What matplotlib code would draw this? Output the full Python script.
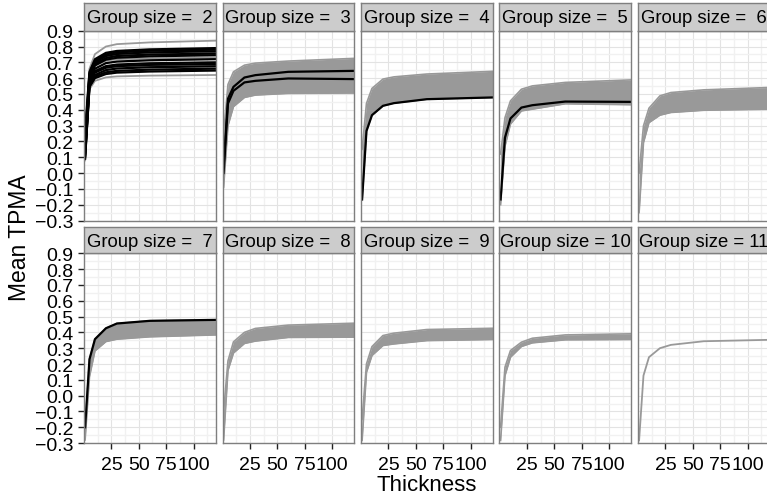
import matplotlib
matplotlib.use('Agg')
import matplotlib.pyplot as plt

plt.rcParams['font.family'] = ['Liberation Sans', 'DejaVu Sans']

# ---------------- data ----------------
thickness = [1, 5, 10, 20, 30, 60, 120]
group_sizes = [2, 3, 4, 5, 6, 7, 8, 9, 10, 11]

y_ticks = [-0.3, -0.2, -0.1, 0.0, 0.1, 0.2, 0.3, 0.4, 0.5, 0.6, 0.7, 0.8, 0.9]
y_tick_labels = ['\u22120.3', '\u22120.2', '\u22120.1', '0.0', '0.1', '0.2', '0.3',
                 '0.4', '0.5', '0.6', '0.7', '0.8', '0.9']
y_minor = [-0.25, -0.15, -0.05, 0.05, 0.15, 0.25, 0.35, 0.45, 0.55, 0.65, 0.75, 0.85]
x_ticks = [25, 50, 75, 100]
x_tick_labels = ['25', '50', '75', '100']
x_minor = [12.5, 37.5, 62.5, 87.5, 112.5]

# Group size 2: individual lines
g2_gray = [
    [0.30, 0.66, 0.752, 0.800, 0.815, 0.826, 0.837],
    [0.08, 0.53, 0.583, 0.605, 0.611, 0.616, 0.620],
    [0.15, 0.60, 0.680, 0.710, 0.720, 0.725, 0.730],
    [0.12, 0.58, 0.640, 0.665, 0.672, 0.677, 0.680],
    [0.20, 0.63, 0.700, 0.735, 0.745, 0.752, 0.760],
]
g2_black = [
    [0.25, 0.64, 0.720, 0.760, 0.772, 0.782, 0.790],
    [0.22, 0.63, 0.710, 0.750, 0.763, 0.773, 0.780],
    [0.20, 0.62, 0.700, 0.740, 0.753, 0.763, 0.770],
    [0.18, 0.61, 0.690, 0.727, 0.740, 0.749, 0.755],
    [0.17, 0.60, 0.680, 0.717, 0.729, 0.738, 0.745],
    [0.15, 0.59, 0.660, 0.695, 0.705, 0.713, 0.720],
    [0.13, 0.58, 0.645, 0.676, 0.686, 0.694, 0.700],
    [0.12, 0.57, 0.635, 0.666, 0.676, 0.684, 0.690],
    [0.11, 0.56, 0.620, 0.651, 0.661, 0.669, 0.675],
    [0.10, 0.55, 0.610, 0.637, 0.646, 0.654, 0.660],
    [0.09, 0.545, 0.600, 0.626, 0.635, 0.642, 0.648],
]

# Group size 3
g3_lower = [-0.09, 0.30, 0.420, 0.478, 0.493, 0.504, 0.506]
g3_upper = [0.25, 0.56, 0.640, 0.682, 0.695, 0.708, 0.725]
g3_black = [
    [0.04, 0.47, 0.545, 0.604, 0.619, 0.640, 0.646],
    [0.00, 0.44, 0.520, 0.573, 0.583, 0.598, 0.594],
]

# Group size 4
g4_lower = [-0.167, 0.266, 0.366, 0.425, 0.442, 0.467, 0.478]
g4_upper = [0.15, 0.44, 0.535, 0.594, 0.608, 0.626, 0.643]
g4_black = [
    [-0.167, 0.266, 0.366, 0.425, 0.442, 0.467, 0.478],
]

# Group size 5
g5_lower = [-0.20, 0.17, 0.310, 0.393, 0.404, 0.438, 0.432]
g5_upper = [0.12, 0.35, 0.456, 0.530, 0.551, 0.573, 0.589]
g5_black = [
    [-0.167, 0.224, 0.345, 0.414, 0.429, 0.452, 0.450],
]

# Group size 6
g6_lower = [-0.25, 0.193, 0.319, 0.366, 0.383, 0.397, 0.404]
g6_upper = [0.00, 0.298, 0.410, 0.488, 0.509, 0.526, 0.541]

# Group size 7
g7_lower = [-0.28, 0.12, 0.283, 0.342, 0.357, 0.372, 0.384]
g7_upper = [-0.20, 0.23, 0.357, 0.426, 0.456, 0.473, 0.479]
g7_black = [
    [-0.20, 0.23, 0.357, 0.426, 0.456, 0.473, 0.479],
]

# Group size 8
g8_lower = [-0.28, 0.16, 0.270, 0.330, 0.345, 0.368, 0.370]
g8_upper = [-0.10, 0.22, 0.340, 0.400, 0.425, 0.446, 0.458]

# Group size 9
g9_lower = [-0.283, 0.148, 0.254, 0.317, 0.327, 0.348, 0.355]
g9_upper = [-0.15, 0.20, 0.310, 0.380, 0.395, 0.418, 0.426]

# Group size 10
g10_lower = [-0.283, 0.127, 0.243, 0.311, 0.334, 0.353, 0.355]
g10_upper = [-0.20, 0.18, 0.285, 0.338, 0.363, 0.384, 0.391]

# Group size 11: a single line
g11_gray = [
    [-0.283, 0.127, 0.243, 0.300, 0.321, 0.344, 0.353],
]

panels = [
    dict(gray=g2_gray, band=None, black=g2_black),
    dict(gray=[], band=(g3_lower, g3_upper), black=g3_black),
    dict(gray=[], band=(g4_lower, g4_upper), black=g4_black),
    dict(gray=[], band=(g5_lower, g5_upper), black=g5_black),
    dict(gray=[], band=(g6_lower, g6_upper), black=[]),
    dict(gray=[], band=(g7_lower, g7_upper), black=g7_black),
    dict(gray=[], band=(g8_lower, g8_upper), black=[]),
    dict(gray=[], band=(g9_lower, g9_upper), black=[]),
    dict(gray=[], band=(g10_lower, g10_upper), black=[]),
    dict(gray=g11_gray, band=None, black=[]),
]

# ---------------- layout ----------------
W, H = 767, 502
fig = plt.figure(figsize=(W / 100, H / 100), dpi=100)
fig.patch.set_facecolor('white')

col_left0, col_step, panel_w = 84, 138.5, 131.5
row_top = [31.7, 254.3]
panel_h = 189.8
strip_top = [4.0, 228.3]

GRAY = '#999999'
BORDER = '#7F7F7F'

for i, g in enumerate(group_sizes):
    r, c = divmod(i, 5)
    left = col_left0 + col_step * c
    top = row_top[r]
    ax = fig.add_axes([left / W, 1 - (top + panel_h) / H, panel_w / W, panel_h / H])
    ax.set_facecolor('white')
    ax.set_xlim(0, 120)
    ax.set_ylim(-0.3, 0.9)
    ax.set_yticks(y_ticks)
    ax.set_yticks(y_minor, minor=True)
    ax.set_xticks(x_ticks)
    ax.set_xticks(x_minor, minor=True)
    ax.set_yticklabels(y_tick_labels)
    ax.set_xticklabels(x_tick_labels)
    ax.grid(which='major', color='#E3E3E3', lw=0.8)
    ax.grid(which='minor', color='#F1F1F1', lw=1.0)
    ax.set_axisbelow(True)
    ax.tick_params(which='minor', length=0)
    ax.tick_params(which='major', length=4.5, width=1.0, color='#222222',
                   labelsize=14, labelcolor='black')
    ax.tick_params(axis='y', pad=3.0)
    ax.tick_params(axis='x', pad=4.5)
    if c != 0:
        ax.tick_params(left=False, labelleft=False)
    if r != 1:
        ax.tick_params(bottom=False, labelbottom=False)
    for sp in ax.spines.values():
        sp.set_color(BORDER)
        sp.set_linewidth(1.0)

    p = panels[i]
    if p['band'] is not None:
        lo, hi = p['band']
        ax.fill_between(thickness, lo, hi, color=GRAY, lw=0, zorder=1.5)
        ax.plot(thickness, lo, color=GRAY, lw=1.2, zorder=1.6)
        ax.plot(thickness, hi, color=GRAY, lw=1.2, zorder=1.6)
    for line in p['gray']:
        ax.plot(thickness, line, color=GRAY, lw=1.3, zorder=1.7)
    for line in p['black']:
        ax.plot(thickness, line, color='black', lw=1.6, zorder=2)

    # strip
    st = strip_top[r]
    sh = top - st
    sax = fig.add_axes([left / W, 1 - top / H, panel_w / W, sh / H])
    sax.set_facecolor('#CCCCCC')
    sax.set_xticks([])
    sax.set_yticks([])
    for sp in sax.spines.values():
        sp.set_color(BORDER)
        sp.set_linewidth(1.0)
    sax.text(0.5, 0.46, 'Group size = %2d' % g, transform=sax.transAxes,
             ha='center', va='center', fontsize=13.3, color='black', clip_on=False)

fig.text(427 / W, 1 - 486 / H, 'Thickness', ha='center', va='center', fontsize=16)
fig.text(20 / W, 1 - 238 / H, 'Mean TPMA', ha='center', va='center',
         rotation=90, fontsize=16.5)

fig.savefig('out.png', dpi=100, facecolor='white')
